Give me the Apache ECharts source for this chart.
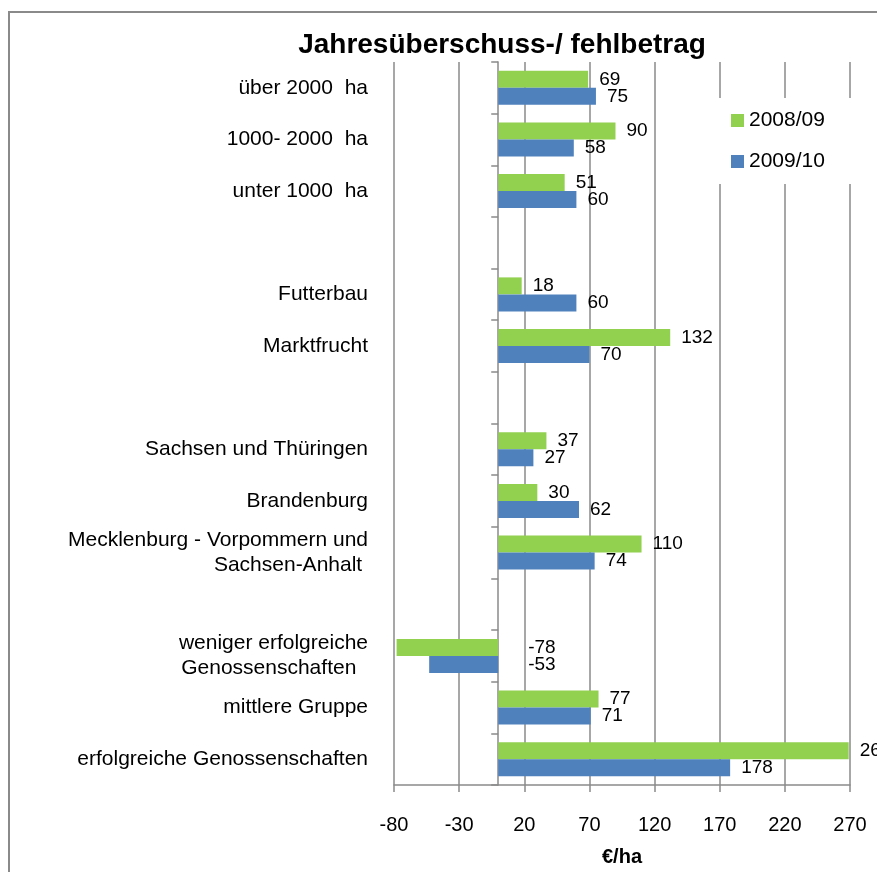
<!DOCTYPE html>
<html>
<head>
<meta charset="utf-8">
<script src="https://cdn.jsdelivr.net/npm/echarts@6/dist/echarts.min.js"></script>
<style>
  html, body { margin: 0; padding: 0; background: #fff; }
  #chart { width: 877px; height: 872px; }
</style>
</head>
<body>
<div id="chart"></div>
<script>
// Daten
const categories = [
    'über 2000  ha',
    '1000- 2000  ha',
    'unter 1000  ha',
    ' ',
    'Futterbau',
    'Marktfrucht',
    '  ',
    'Sachsen und Thüringen',
    'Brandenburg',
    'Mecklenburg - Vorpommern und\nSachsen-Anhalt ',
    '   ',
    'weniger erfolgreiche\nGenossenschaften  ',
    'mittlere Gruppe',
    'erfolgreiche Genossenschaften'
];
const values0809 = [69, 90, 51, '-', 18, 132, '-', 37, 30, 110, '-', -78, 77, 269];
const values0910 = [75, 58, 60, '-', 60, 70, '-', 27, 62, 74, '-', -53, 71, 178];
const xTicks = { min: -80, max: 270, interval: 50 };

const FONT = 'Liberation Sans, Arial, sans-serif';
const chart = echarts.init(document.getElementById('chart'));

// negative Werte: Beschriftung weiter rechts von der Nulllinie
function toBarData(values) {
    return values.map(v => (typeof v === 'number' && v < 0) ? { value: v, label: { distance: 30 } } : v);
}

chart.setOption({
    animation: false,
    textStyle: { fontFamily: FONT, color: '#000' },
    title: {
        text: 'Jahresüberschuss-/ fehlbetrag',
        left: 497,
        textAlign: 'center',
        top: 26,
        textStyle: { fontFamily: FONT, fontSize: 28, fontWeight: 'bold', color: '#000' }
    },
    legend: {
        orient: 'vertical',
        left: 715,
        top: 98,
        padding: [12, 30, 12, 16],
        backgroundColor: '#fff',
        itemWidth: 13,
        itemHeight: 13,
        itemGap: 20,
        icon: 'rect',
        textStyle: { fontFamily: FONT, fontSize: 21, color: '#000' },
        data: ['2008/09', '2009/10']
    },
    grid: { left: 394, right: 27, top: 62, bottom: 86 },
    xAxis: {
        type: 'value',
        min: xTicks.min,
        max: xTicks.max,
        interval: xTicks.interval,
        name: '€/ha',
        nameLocation: 'middle',
        nameGap: 62,
        nameTextStyle: { fontFamily: FONT, fontSize: 20, fontWeight: 'bold', color: '#000' },
        axisLine: { show: true, onZero: false, lineStyle: { color: '#8a8a8a', width: 1.5 } },
        axisTick: { show: true, length: 7, lineStyle: { color: '#8a8a8a', width: 1.5 } },
        axisLabel: { fontFamily: FONT, fontSize: 20, color: '#000', margin: 30 },
        splitLine: { show: true, lineStyle: { color: '#8a8a8a', width: 1.5 } }
    },
    yAxis: {
        type: 'category',
        inverse: true,
        data: categories,
        axisLine: { show: true, onZero: true, lineStyle: { color: '#8a8a8a', width: 1.5 } },
        axisTick: { show: true, length: 7, lineStyle: { color: '#8a8a8a', width: 1.5 } },
        axisLabel: { fontFamily: FONT, fontSize: 21, color: '#000', margin: 26, lineHeight: 25, align: 'right' }
    },
    series: [
        {
            name: '2008/09',
            type: 'bar',
            data: toBarData(values0809),
            barWidth: 17,
            barGap: '0%',
            itemStyle: { color: '#92d050' },
            label: { show: true, position: 'right', distance: 11, fontFamily: FONT, fontSize: 19, color: '#000' }
        },
        {
            name: '2009/10',
            type: 'bar',
            data: toBarData(values0910),
            barWidth: 17,
            barGap: '0%',
            itemStyle: { color: '#4f81bd' },
            label: { show: true, position: 'right', distance: 11, fontFamily: FONT, fontSize: 19, color: '#000' }
        }
    ],
    graphic: [
        {
            type: 'rect',
            shape: { x: 9, y: 12, width: 900, height: 900 },
            style: { fill: 'none', stroke: '#8a8a8a', lineWidth: 2 },
            silent: true
        }
    ]
});
</script>
</body>
</html>
